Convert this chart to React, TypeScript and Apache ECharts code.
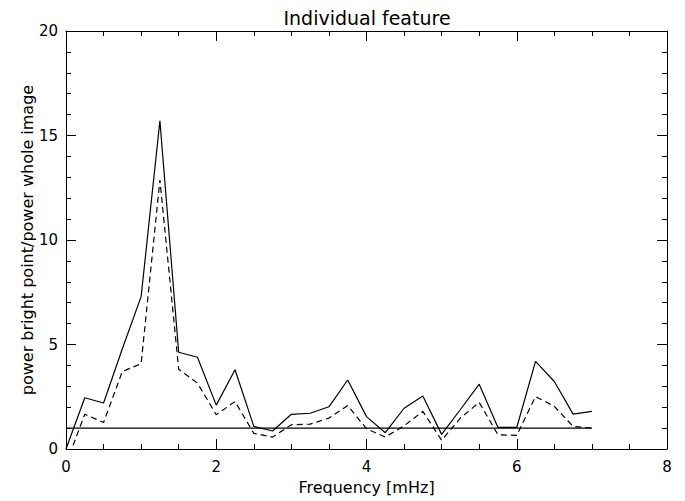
import React, { useEffect, useRef } from "react";
import * as echarts from "echarts";

const freq = [0, 0.25, 0.5, 0.75, 1.0, 1.25, 1.5, 1.75, 2.0, 2.25, 2.5, 2.75, 3.0, 3.25, 3.5, 3.75, 4.0, 4.25, 4.5, 4.75, 5.0, 5.25, 5.5, 5.75, 6.0, 6.25, 6.5, 6.75, 7.0];
const solid = [0.0, 2.45, 2.2, 4.8, 7.29, 15.7, 4.63, 4.39, 2.1, 3.79, 1.08, 0.86, 1.66, 1.71, 2.02, 3.3, 1.55, 0.78, 1.95, 2.54, 0.7, 1.89, 3.1, 1.03, 1.03, 4.19, 3.23, 1.67, 1.8];
const dashed = [-0.72, 1.66, 1.27, 3.71, 4.08, 12.87, 3.82, 3.15, 1.64, 2.27, 0.75, 0.57, 1.16, 1.19, 1.48, 2.08, 0.97, 0.57, 1.11, 1.8, 0.42, 1.48, 2.23, 0.68, 0.65, 2.51, 2.04, 1.08, 1.0];
const refLineX = [0, 7];
const refLineY = 1.0;

const title = "Individual feature";
const xName = "Frequency [mHz]";
const yName = "power bright point/power whole image";

export default function App() {
  const ref = useRef<HTMLDivElement>(null);
  useEffect(() => {
    if (!ref.current) return;
    const chart = echarts.init(ref.current, null, { renderer: "svg" });
    const font = "DejaVu Sans";
    const fw = "normal";
    const axisCommon = {
      axisLine: { show: true, onZero: false, lineStyle: { color: "#000", width: 1 } },
      splitLine: { show: false },
    };
    chart.setOption({
      animation: false,
      backgroundColor: "#fff",
      title: {
        text: title,
        left: 362,
        textAlign: "center",
        top: 3,
        textStyle: { fontFamily: font, fontSize: 19, fontWeight: fw, color: "#000" },
      },
      grid: { left: 66, right: 18, top: 31, bottom: 52 },
      xAxis: [
        {
          type: "value",
          min: 0,
          max: 8,
          interval: 2,
          position: "bottom",
          name: xName,
          nameLocation: "middle",
          nameGap: 30,
          nameMoveOverlap: false,
          nameTextStyle: { fontFamily: font, fontSize: 16, fontWeight: fw, color: "#000" },
          ...axisCommon,
          axisTick: { show: true, inside: true, length: 10, lineStyle: { color: "#000" } },
          minorTick: { show: true, splitNumber: 4, length: 5, lineStyle: { color: "#000" } },
          axisLabel: { fontFamily: font, fontSize: 15, fontWeight: fw, color: "#000", margin: 10 },
        },
        {
          type: "value",
          min: 0,
          max: 8,
          interval: 2,
          position: "top",
          ...axisCommon,
          axisTick: { show: true, inside: true, length: 10, lineStyle: { color: "#000" } },
          minorTick: { show: true, splitNumber: 4, length: 5, lineStyle: { color: "#000" } },
          axisLabel: { show: false },
        },
      ],
      yAxis: [
        {
          type: "value",
          min: 0,
          max: 20,
          interval: 5,
          position: "left",
          name: yName,
          nameLocation: "middle",
          nameGap: 31,
          nameMoveOverlap: false,
          nameTextStyle: { fontFamily: font, fontSize: 16, fontWeight: fw, color: "#000" },
          ...axisCommon,
          axisTick: { show: true, inside: true, length: 10, lineStyle: { color: "#000" } },
          minorTick: { show: true, splitNumber: 5, length: 5, lineStyle: { color: "#000" } },
          axisLabel: { fontFamily: font, fontSize: 15, fontWeight: fw, color: "#000", margin: 8 },
        },
        {
          type: "value",
          min: 0,
          max: 20,
          interval: 5,
          position: "right",
          ...axisCommon,
          axisTick: { show: true, inside: true, length: 10, lineStyle: { color: "#000" } },
          minorTick: { show: true, splitNumber: 5, length: 5, lineStyle: { color: "#000" } },
          axisLabel: { show: false },
        },
      ],
      series: [
        {
          type: "line",
          data: freq.map((f, i) => [f, solid[i]]),
          symbol: "none",
          clip: true,
          lineStyle: { color: "#000", width: 1.2 },
        },
        {
          type: "line",
          data: freq.map((f, i) => [f, dashed[i]]),
          symbol: "none",
          clip: true,
          lineStyle: { color: "#000", width: 1.2, type: [6, 4] },
        },
        {
          type: "line",
          data: refLineX.map((x) => [x, refLineY]),
          symbol: "none",
          clip: true,
          lineStyle: { color: "#000", width: 1.2 },
        },
      ],
    });
    return () => chart.dispose();
  }, []);
  return <div ref={ref} style={{ width: 685, height: 501, position: "absolute", left: 0, top: 0 }} />;
}
